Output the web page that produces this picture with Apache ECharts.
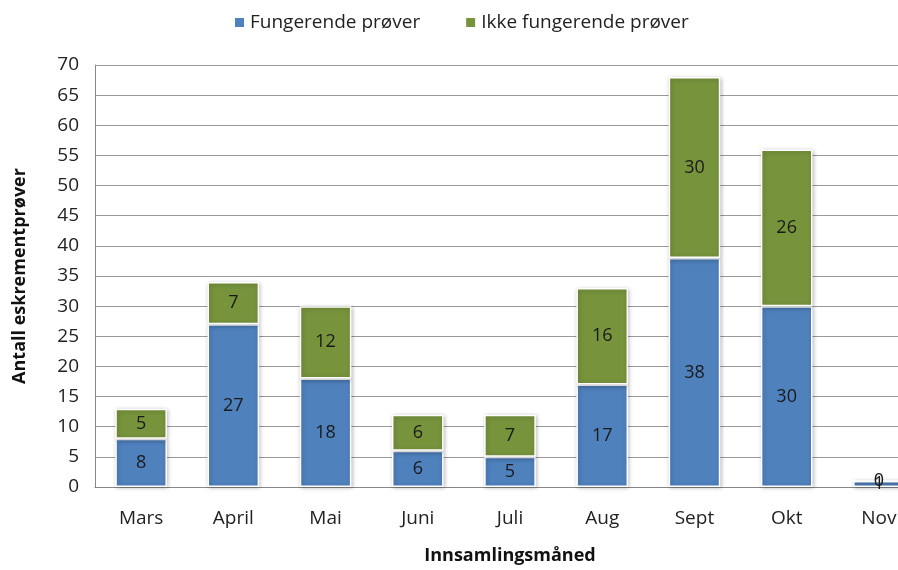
<!DOCTYPE html>
<html>
<head>
<meta charset="utf-8">
<script src="https://cdn.jsdelivr.net/npm/echarts@6/dist/echarts.min.js"></script>
<style>
  html, body { margin: 0; padding: 0; background: #fff; }
  #chart { width: 898px; height: 570px; }
</style>
</head>
<body>
<div id="chart"></div>
<script>
const months = ['Mars', 'April', 'Mai', 'Juni', 'Juli', 'Aug', 'Sept', 'Okt', 'Nov'];
const working = [8, 27, 18, 6, 5, 17, 38, 30, 1];
const notWorking = [5, 7, 12, 6, 7, 16, 30, 26, 0];
const yTicks = [0, 5, 10, 15, 20, 25, 30, 35, 40, 45, 50, 55, 60, 65, 70];

const chart = echarts.init(document.getElementById('chart'));
const font = '"Open Sans", Lato, sans-serif';

const barStyle = color => ({
  color: color,
  borderColor: '#fff',
  borderWidth: 1.5,
  shadowColor: 'rgba(0,0,0,0.25)',
  shadowBlur: 4,
  shadowOffsetX: 1,
  shadowOffsetY: 1
});

const label = {
  show: true,
  position: 'inside',
  color: '#1a1a1a',
  fontSize: 18,
  fontFamily: font
};

chart.setOption({
  animation: false,
  textStyle: { fontFamily: font },
  legend: {
    top: 8,
    left: 228,
    itemWidth: 11,
    itemHeight: 11,
    itemGap: 44,
    icon: 'rect',
    textStyle: { fontSize: 19, color: '#222', fontFamily: font },
    data: ['Fungerende prøver', 'Ikke fungerende prøver']
  },
  grid: { left: 95, top: 65, width: 830, height: 422, outerBoundsMode: 'none' },
  xAxis: {
    type: 'category',
    data: months,
    name: 'Innsamlingsmåned',
    nameLocation: 'middle',
    nameGap: 60,
    nameTextStyle: { fontSize: 18, fontWeight: 'bold', color: '#111', fontFamily: font },
    axisLine: { lineStyle: { color: '#888' } },
    axisTick: { show: false },
    axisLabel: { fontSize: 19, color: '#222', margin: 22 }
  },
  yAxis: {
    type: 'value',
    min: 0,
    max: 70,
    interval: 5,
    name: 'Antall eskrementprøver',
    nameLocation: 'middle',
    nameGap: 66,
    nameTextStyle: { fontSize: 18, fontWeight: 'bold', color: '#111', fontFamily: font },
    axisLine: { show: true, lineStyle: { color: '#888' } },
    axisTick: { show: false },
    axisLabel: {
      fontSize: 19, color: '#222', margin: 16,
      formatter: v => yTicks.includes(v) ? String(v) : ''
    },
    splitLine: { lineStyle: { color: '#999' } }
  },
  series: [
    {
      name: 'Fungerende prøver',
      type: 'bar',
      stack: 'total',
      barWidth: '56%',
      data: working,
      itemStyle: barStyle('#4F81BD'),
      label: label
    },
    {
      name: 'Ikke fungerende prøver',
      type: 'bar',
      stack: 'total',
      barWidth: '56%',
      data: notWorking,
      itemStyle: barStyle('#77933C'),
      label: label
    }
  ]
});
</script>
</body>
</html>
